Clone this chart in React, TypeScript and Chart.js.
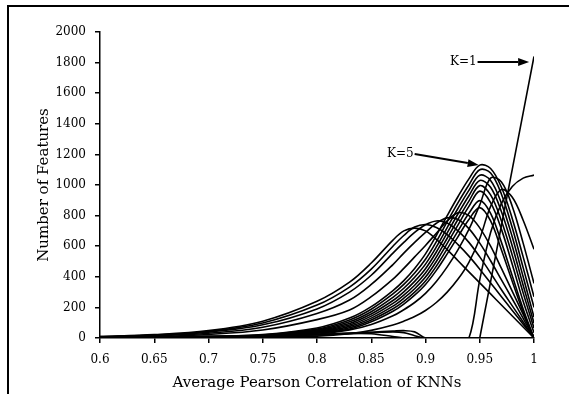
import React, { useEffect, useRef } from "react";
import { Chart, registerables } from "chart.js";

Chart.register(...registerables);

// Shared x positions (Average Pearson Correlation of KNNs)
const X_VALUES = [0.6, 0.65, 0.7, 0.75, 0.8, 0.83, 0.85, 0.87, 0.88, 0.89, 0.9, 0.91, 0.92, 0.93, 0.94, 0.95, 0.96, 0.97, 0.98, 0.99, 1.0];

// Number of features per curve
const K1 = [0, 0, 0, 0, 0, 0, 0, 0, 0, 0, 0, 0, 0, 0, 0, 0, 368, 736, 1104, 1472, 1840];
const K2 = [0, 0, 0, 0, 0, 0, 0, 0, 0, 0, 0, 0, 0, 0, 0, 380, 690, 880, 990, 1045, 1065];
const K3 = [0, 0, 1, 4, 12, 28, 50, 85, 110, 140, 180, 232, 300, 385, 495, 650, 860, 970, 920, 770, 580];
const K4 = [0, 1, 3, 8, 25, 52, 88, 145, 185, 232, 292, 370, 465, 578, 710, 870, 1045, 1020, 860, 620, 357];
const K5 = [1, 3, 8, 22, 65, 130, 205, 310, 375, 455, 550, 670, 800, 925, 1040, 1130, 1108, 985, 780, 530, 270];
const K6 = [1, 3, 7, 20, 58, 118, 188, 288, 350, 425, 515, 630, 760, 885, 1000, 1100, 1078, 940, 720, 460, 200];
const K7 = [1, 3, 7, 18, 52, 106, 172, 266, 325, 397, 483, 595, 722, 848, 965, 1064, 1030, 880, 660, 400, 137];
const K8 = [1, 2, 6, 16, 47, 95, 157, 245, 302, 370, 453, 562, 687, 812, 930, 1030, 985, 825, 600, 345, 98];
const K9 = [1, 2, 5, 15, 43, 85, 143, 226, 280, 345, 425, 530, 652, 776, 895, 996, 935, 765, 540, 295, 65];
const K10 = [1, 2, 5, 13, 39, 76, 130, 208, 260, 322, 398, 500, 618, 740, 860, 960, 885, 710, 480, 240, 35];
const K11 = [0, 1, 4, 12, 35, 67, 118, 191, 240, 300, 373, 470, 583, 700, 815, 898, 815, 625, 405, 190, 0];
const K12 = [0, 1, 4, 11, 32, 58, 106, 175, 222, 280, 350, 442, 550, 663, 775, 852, 765, 575, 370, 170, 0];
const K13 = [4, 10, 23, 52, 120, 183, 270, 385, 455, 530, 605, 685, 765, 818, 800, 720, 600, 455, 305, 155, 0];
const K14 = [6, 14, 31, 70, 160, 248, 350, 480, 555, 625, 690, 750, 785, 775, 715, 620, 505, 380, 255, 128, 0];
const K15 = [8, 18, 38, 86, 190, 300, 410, 555, 625, 690, 740, 765, 752, 700, 625, 530, 425, 315, 210, 105, 0];
const K16 = [9, 20, 43, 98, 215, 333, 450, 600, 670, 725, 742, 722, 675, 610, 535, 450, 360, 270, 180, 90, 0];
const K17 = [10, 22, 48, 110, 240, 365, 490, 640, 700, 718, 700, 645, 578, 505, 432, 360, 288, 216, 144, 72, 0];
const S1 = [5, 8, 12, 17, 25, 32, 38, 45, 48, 40, 0, 0, 0, 0, 0, 0, 0, 0, 0, 0, 0];
const S2 = [3, 6, 9, 13, 20, 28, 35, 40, 35, 15, 0, 0, 0, 0, 0, 0, 0, 0, 0, 0, 0];
const S3 = [2, 4, 7, 12, 22, 30, 28, 10, 0, 0, 0, 0, 0, 0, 0, 0, 0, 0, 0, 0, 0];

const SERIES_NAMES = ["K=1", "K=2", "K=3", "K=4", "K=5", "K=6", "K=7", "K=8", "K=9", "K=10", "K=11", "K=12", "K=13", "K=14", "K=15", "K=16", "K=17", "S1", "S2", "S3"];
const SERIES_VALUES = [K1, K2, K3, K4, K5, K6, K7, K8, K9, K10, K11, K12, K13, K14, K15, K16, K17, S1, S2, S3];

// Axis ticks
const X_TICKS = [0.6, 0.65, 0.7, 0.75, 0.8, 0.85, 0.9, 0.95, 1.0];
const X_TICK_LABELS = ["0.6", "0.65", "0.7", "0.75", "0.8", "0.85", "0.9", "0.95", "1"];
const Y_TICKS = [0, 200, 400, 600, 800, 1000, 1200, 1400, 1600, 1800, 2000];

// Annotations (data coordinates)
const NOTE_TEXTS = ["K=1", "K=5"];
const NOTE_FROM_X = [0.948, 0.89];
const NOTE_FROM_Y = [1804, 1203];
const NOTE_TO_X = [0.9955, 0.949];
const NOTE_TO_Y = [1804, 1131];

const FONT = "'DejaVu Serif', serif";

const arrowPlugin = {
  id: "arrowNotes",
  afterDatasetsDraw(chart: any) {
    const { ctx } = chart;
    const xs = chart.scales.x;
    const ys = chart.scales.y;
    ctx.save();
    NOTE_TEXTS.forEach((t, i) => {
      const x0 = xs.getPixelForValue(NOTE_FROM_X[i]);
      const y0 = ys.getPixelForValue(NOTE_FROM_Y[i]);
      const x1 = xs.getPixelForValue(NOTE_TO_X[i]);
      const y1 = ys.getPixelForValue(NOTE_TO_Y[i]);
      const ang = Math.atan2(y1 - y0, x1 - x0);
      const head = 11;
      const hw = 4;
      const bx = x1 - head * Math.cos(ang);
      const by = y1 - head * Math.sin(ang);
      ctx.strokeStyle = "#000";
      ctx.fillStyle = "#000";
      ctx.lineWidth = 2;
      ctx.beginPath();
      ctx.moveTo(x0, y0);
      ctx.lineTo(bx, by);
      ctx.stroke();
      ctx.beginPath();
      ctx.moveTo(x1, y1);
      ctx.lineTo(bx + hw * Math.sin(ang), by - hw * Math.cos(ang));
      ctx.lineTo(bx - hw * Math.sin(ang), by + hw * Math.cos(ang));
      ctx.closePath();
      ctx.fill();
      ctx.font = `12px ${FONT}`;
      ctx.textAlign = "right";
      ctx.textBaseline = "middle";
      ctx.fillText(t, x0 - 1, y0);
    });
    ctx.restore();
  },
};

export default function App() {
  const ref = useRef<HTMLCanvasElement | null>(null);

  useEffect(() => {
    if (!ref.current) return;
    const datasets = SERIES_VALUES.map((vals, i) => ({
      label: SERIES_NAMES[i],
      data: X_VALUES.map((x, j) => ({ x, y: vals[j] })),
      borderColor: "#000",
      backgroundColor: "#000",
      borderWidth: 1.6,
      pointRadius: 0,
      fill: false,
      tension: i === 0 ? 0 : 0.35,
      cubicInterpolationMode: "default",
    }));

    const chart = new Chart(ref.current, {
      type: "line",
      data: { datasets } as any,
      plugins: [arrowPlugin],
      options: {
        animation: false,
        responsive: false,
        devicePixelRatio: 1,
        layout: { padding: { left: 29, right: 35, top: 32, bottom: 0 } },
        plugins: { legend: { display: false }, tooltip: { enabled: false } },
        scales: {
          x: {
            type: "linear",
            min: 0.6,
            max: 1.0,
            afterFit: (s: any) => {
              s.height = 56;
            },
            afterBuildTicks: (s: any) => {
              s.ticks = X_TICKS.map((v) => ({ value: v }));
            },
            ticks: {
              color: "#000",
              font: { family: FONT, size: 12 },
              padding: 10,
              maxRotation: 0,
              autoSkip: false,
              callback: (v: any) => {
                const idx = X_TICKS.findIndex((t) => Math.abs(t - v) < 1e-9);
                return idx >= 0 ? X_TICK_LABELS[idx] : "";
              },
            },
            grid: { drawOnChartArea: false, drawTicks: true, tickLength: 5, color: "#000", lineWidth: 1.5 },
            border: { display: true, color: "#000", width: 1.5 },
            title: {
              display: true,
              text: "Average Pearson Correlation of KNNs",
              color: "#000",
              font: { family: FONT, size: 15 },
              padding: { top: 0, bottom: 2 },
            },
          },
          y: {
            min: 0,
            max: 2000,
            afterFit: (s: any) => {
              s.width = 71;
            },
            afterBuildTicks: (s: any) => {
              s.ticks = Y_TICKS.map((v) => ({ value: v }));
            },
            ticks: {
              color: "#000",
              font: { family: FONT, size: 12 },
              padding: 9,
              callback: (v: any) => String(v),
            },
            grid: { drawOnChartArea: false, drawTicks: true, tickLength: 5, color: "#000", lineWidth: 1.5 },
            border: { display: true, color: "#000", width: 1.5 },
            title: {
              display: true,
              text: "Number of Features",
              color: "#000",
              font: { family: FONT, size: 15 },
              padding: { top: 6, bottom: 0 },
            },
          },
        },
      } as any,
    });
    return () => chart.destroy();
  }, []);

  return (
    <div style={{ position: "fixed", left: 0, top: 0, width: 569, height: 394, background: "#fff", overflow: "hidden" }}>
      <canvas ref={ref} width={569} height={394} style={{ position: "absolute", left: 0, top: 0, width: 569, height: 394 }} />
      <div style={{ position: "absolute", left: 7, top: 5, width: 562, height: 2, background: "#000" }} />
      <div style={{ position: "absolute", left: 7, top: 5, width: 2, height: 389, background: "#000" }} />
    </div>
  );
}
